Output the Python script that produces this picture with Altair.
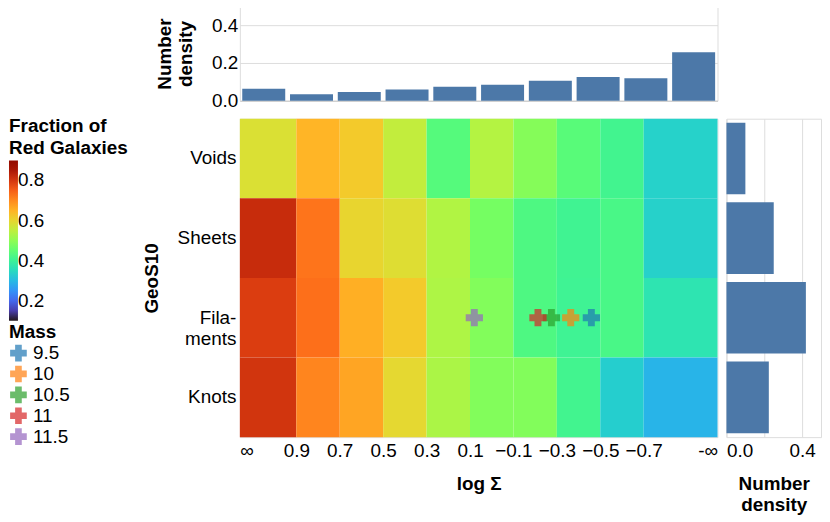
import altair as alt
import pandas as pd

FONT = "Liberation Sans"

# ---- data ----
envs = ["Voids", "Sheets", "Filaments", "Knots"]
edges = [1.16, 0.9, 0.7, 0.5, 0.3, 0.1, -0.1, -0.3, -0.5, -0.7, -1.04]
bin_labels = ["∞ to 0.9", "0.9 to 0.7", "0.7 to 0.5", "0.5 to 0.3", "0.3 to 0.1",
              "0.1 to -0.1", "-0.1 to -0.3", "-0.3 to -0.5", "-0.5 to -0.7", "-0.7 to -∞"]

frac_voids = [0.582, 0.647, 0.619, 0.554, 0.436, 0.539, 0.490, 0.440, 0.410, 0.336]
frac_sheets = [0.816, 0.726, 0.602, 0.588, 0.536, 0.474, 0.428, 0.406, 0.420, 0.335]
frac_filaments = [0.791, 0.732, 0.656, 0.619, 0.533, 0.487, 0.428, 0.404, 0.420, 0.368]
frac_knots = [0.803, 0.706, 0.668, 0.597, 0.530, 0.487, 0.487, 0.410, 0.330, 0.292]

top_density = [0.064, 0.034, 0.046, 0.060, 0.074, 0.085, 0.106, 0.126, 0.119, 0.257]
env_density = [0.100, 0.250, 0.420, 0.224]

masses = ["9.5", "10", "10.5", "11", "11.5"]
mass_logsigma = [-0.459, -0.364, -0.275, -0.213, 0.080]
mass_env = ["Filaments"] * 5

# ---- tables ----
rows = []
for env, fr in zip(envs, [frac_voids, frac_sheets, frac_filaments, frac_knots]):
    for i, f in enumerate(fr):
        rows.append({"env": env, "x1": edges[i], "x2": edges[i + 1], "frac": f})
heat_df = pd.DataFrame(rows)
top_df = pd.DataFrame({"bin": bin_labels, "density": top_density})
env_df = pd.DataFrame({"env": envs, "density": env_density})
pts_df = pd.DataFrame({"mass": masses, "logsigma": mass_logsigma, "env": mass_env})

xscale = alt.Scale(domain=[-1.04, 1.16], reverse=True, nice=False, zero=False)

heat = alt.Chart(heat_df).mark_rect().encode(
    x=alt.X("x1:Q", scale=xscale, title="log Σ",
            axis=alt.Axis(values=edges,
                          labelExpr="datum.value > 1 ? '∞' : (datum.value < -1 ? '-∞' : format(datum.value, '.1f'))",
                          ticks=False, domain=False, grid=False, labelOverlap=False,
                          labelPadding=4, titlePadding=15)),
    x2="x2:Q",
    y=alt.Y("env:N", sort=envs, title="GeoS10",
            axis=alt.Axis(ticks=False, domain=False, labelPadding=4, titlePadding=16,
                          labelLineHeight=21,
                          labelExpr="datum.value == 'Filaments' ? ['Fila-', 'ments'] : datum.label")),
    color=alt.Color("frac:Q", scale=alt.Scale(scheme="turbo", domain=[0.1, 0.9]),
                    legend=alt.Legend(title=["Fraction of", "Red Galaxies"], orient="none",
                                      direction="vertical", legendX=-232, legendY=-2,
                                      gradientLength=161, gradientThickness=9,
                                      values=[0.2, 0.4, 0.6, 0.8], format=".1f",
                                      labelOffset=0, titlePadding=3, titleLineHeight=22)),
)

pts = alt.Chart(pts_df).mark_point(shape="cross", filled=True, size=300, opacity=0.7).encode(
    x=alt.X("logsigma:Q", scale=xscale),
    y=alt.Y("env:N", sort=envs),
    color=alt.Color("mass:N", sort=masses, scale=alt.Scale(scheme="category10"),
                    legend=alt.Legend(title="Mass", orient="none", legendX=-232, legendY=205,
                                      symbolSize=280, symbolOpacity=0.7,
                                      labelOffset=5, titlePadding=2, rowPadding=1)),
)

layer = alt.layer(heat, pts).resolve_scale(color="independent").properties(width=480, height=320)

top = alt.Chart(top_df).mark_bar().encode(
    x=alt.X("bin:N", sort=None,
            axis=alt.Axis(labels=False, ticks=False, title=None, domain=True, domainColor="#ccc")),
    y=alt.Y("density:Q", scale=alt.Scale(domain=[0, 0.5]), title=["Number", "density"],
            axis=alt.Axis(values=[0, 0.2, 0.4], format=".1f", ticks=False, domain=False,
                          labelPadding=2, titlePadding=16)),
).properties(width=480, height=95)

right = alt.Chart(env_df).mark_bar().encode(
    y=alt.Y("env:N", sort=envs, axis=None),
    x=alt.X("density:Q", scale=alt.Scale(domain=[0, 0.5]), title=["Number", "density"],
            axis=alt.Axis(values=[0, 0.2, 0.4], ticks=False, domain=False, labelPadding=4,
                          titlePadding=15,
                          labelExpr="datum.value == 0.2 ? '' : format(datum.value, '.1f')")),
).properties(width=95, height=320)

spacer = alt.Chart(pd.DataFrame({"a": [0]})).mark_point(opacity=0, size=1).encode(
    x=alt.value(10), y=alt.value(40)
).properties(width=20, height=95, view=alt.ViewBackground(strokeOpacity=0))

chart = alt.concat(top, spacer, layer, right, columns=2,
                   spacing={"row": 4, "column": 7}).properties(
    padding={"left": 0, "top": -4, "right": 0, "bottom": 0}
).configure(font=FONT).configure_axis(
    labelFontSize=19, titleFontSize=19, titleFontWeight="bold",
    labelColor="black", titleColor="black", titleLineHeight=21
).configure_legend(
    labelFontSize=19, titleFontSize=19, titleFontWeight="bold",
    labelColor="black", titleColor="black"
).configure_view(stroke="#ddd")

chart.save("out.html", embed_options={"renderer": "svg", "actions": False})
